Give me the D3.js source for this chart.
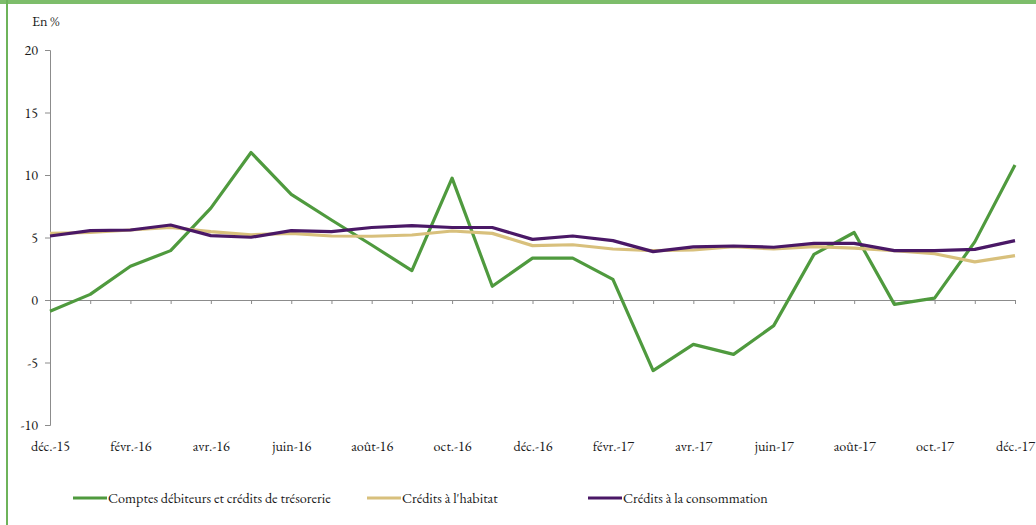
<!DOCTYPE html>
<html>
<head>
<meta charset="utf-8">
<script src="https://cdn.jsdelivr.net/npm/d3@7"></script>
<style>
  html, body { margin: 0; padding: 0; background: #fff; }
</style>
</head>
<body>
<svg id="chart" width="1036" height="525"></svg>
<script>
const months = ["déc.-15","janv.-16","févr.-16","mars-16","avr.-16","mai-16","juin-16","juil.-16","août-16","sept.-16","oct.-16","nov.-16",
  "déc.-16","janv.-17","févr.-17","mars-17","avr.-17","mai-17","juin-17","juil.-17","août-17","sept.-17","oct.-17","nov.-17","déc.-17"];
const comptes = [-0.9,0.45,2.7,3.95,7.35,11.8,8.45,6.4,4.4,2.35,9.75,1.1,3.35,3.35,1.65,-5.65,-3.55,-4.35,-2.05,3.65,5.4,-0.35,0.15,4.65,10.8];
const habitat = [5.33,5.4,5.6,5.8,5.47,5.22,5.33,5.12,5.1,5.2,5.52,5.33,4.35,4.42,4.08,3.95,4.0,4.27,4.08,4.27,4.15,3.95,3.7,3.05,3.55];
const conso   = [5.12,5.55,5.6,6.0,5.15,5.02,5.55,5.47,5.8,5.95,5.8,5.8,4.85,5.12,4.75,3.87,4.25,4.32,4.22,4.53,4.53,3.95,3.95,4.05,4.75];
const yTicks = [-10,-5,0,5,10,15,20];
const seriesNames = ["Comptes débiteurs et crédits de trésorerie","Crédits à l'habitat","Crédits à la consommation"];
const seriesColors = ["#4f9a3e","#d8c07c","#4a1866"];

const FONT = '"EB Garamond", "Liberation Serif"';
const svg = d3.select("#chart");

// measure font size so the first legend entry spans ~223px like the reference
const probe = svg.append("text").style("font-family", FONT).style("font-size","100px").text(seriesNames[0]);
const probeLen = probe.node().getComputedTextLength();
probe.remove();
const FS = Math.max(11, Math.min(16, 100 * 223 / probeLen));

// frame
svg.append("rect").attr("x",0).attr("y",0).attr("width",1036).attr("height",4).attr("fill","#7dbd6b");
svg.append("rect").attr("x",6).attr("y",0).attr("width",2).attr("height",525).attr("fill","#6db35a");

const x = d3.scaleLinear().domain([0, months.length - 1]).range([50, 1015]);
const y = d3.scaleLinear().domain([-10, 20]).range([425, 50]);

function styleText(sel) {
  sel.style("font-family", FONT).style("font-size", FS + "px").attr("fill","#1a1a1a");
}

// y axis
const yAxis = svg.append("g").attr("transform","translate(50,0)")
  .call(d3.axisLeft(y).tickValues(yTicks).tickSize(5).tickPadding(7).tickFormat(d => String(d)));
yAxis.selectAll("path, line").attr("stroke","#8c8c8c");
styleText(yAxis.selectAll("text"));

// x axis at zero
const xAxis = svg.append("g").attr("transform",`translate(0,${y(0)})`)
  .call(d3.axisBottom(x).tickValues(d3.range(months.length)).tickSize(4).tickFormat(""));
xAxis.select("path").attr("stroke","#8c8c8c").attr("d",`M${x(0)},0.5H${x(months.length-1)}`);
xAxis.selectAll("line").attr("stroke","#8c8c8c");

// x labels at bottom
const xLab = svg.append("g").attr("transform","translate(0,441)")
  .call(d3.axisBottom(x).tickValues(d3.range(0, months.length, 2)).tickSize(0).tickPadding(0).tickFormat(i => months[i]));
xLab.select("path").remove();
styleText(xLab.selectAll("text"));

// unit title
styleText(svg.append("text").attr("x",32).attr("y",26).text("En %"));

// lines
const line = d3.line().x((d,i) => x(i)).y(d => y(d));
[comptes, habitat, conso].forEach((data, k) => {
  svg.append("path").datum(data).attr("d", line)
    .attr("fill","none").attr("stroke", seriesColors[k]).attr("stroke-width",3.2)
    .attr("stroke-linejoin","round");
});

// legend
const legendX = [73, 367, 588];
seriesNames.forEach((name, k) => {
  const g = svg.append("g").attr("transform",`translate(${legendX[k]},498)`);
  g.append("line").attr("x1",0).attr("x2",34).attr("y1",0).attr("y2",0)
    .attr("stroke",seriesColors[k]).attr("stroke-width",3.2);
  styleText(g.append("text").attr("x",35).attr("y",4.5).text(name));
});
</script>
</body>
</html>
